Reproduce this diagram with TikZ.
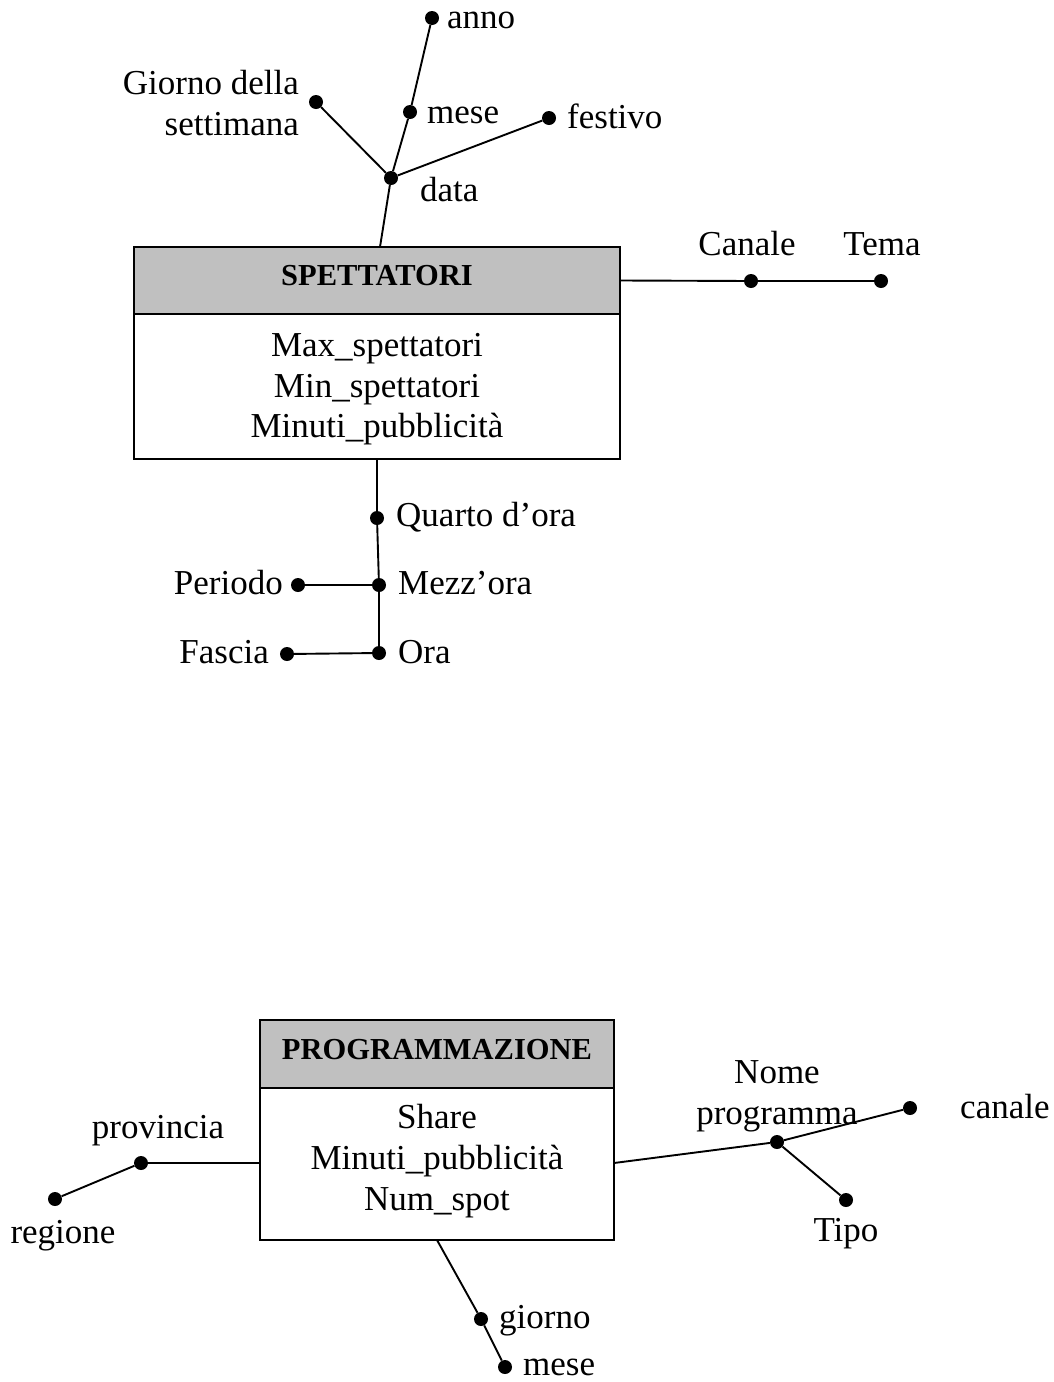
\documentclass[tikz,border=0pt]{standalone}
\usepackage{fontspec}
\setmainfont{Liberation Serif}
\definecolor{hdrgray}{RGB}{192,192,192}
\begin{document}
\begin{tikzpicture}[x=1pt,y=-1pt,
  dot/.style={circle,fill=black,inner sep=0pt,minimum size=14pt},
  lbl/.style={inner sep=0pt,font=\fontsize{35}{41}\selectfont},
  hdrbox/.style={draw=black,line width=2pt,fill=hdrgray,inner sep=0pt},
  bodybox/.style={draw=black,line width=2pt,fill=white,inner sep=0pt},
  hdrtxt/.style={inner sep=0pt,font=\fontsize{30.5}{36}\selectfont\bfseries},
  bodytxt/.style={inner sep=0pt,align=center,font=\fontsize{35}{40.5}\selectfont},
  conn/.style={line width=1.9pt}]
\useasboundingbox (0,0) rectangle (1054,1382);

% ---------- SPETTATORI ----------
\node[hdrbox,minimum width=486pt,minimum height=67pt] (sph) at (377,280.5) {};
\node[bodybox,minimum width=486pt,minimum height=145pt] (spb) at (377,386.5) {};
\node[hdrtxt] (spht) at (377,275.5) {SPETTATORI};
\node[bodytxt] (spbt) at (377,389.5) {Max\_spettatori\\Min\_spettatori\\Minuti\_pubblicità};

\node[dot] (anno) at (432,18) {};
\node[dot] (mese1) at (410,112) {};
\node[dot] (giorno1) at (316,102) {};
\node[dot] (festivo) at (549,118) {};
\node[dot] (data) at (391,178) {};
\coordinate (sptop) at (380,247);

\draw[conn] (anno) -- (mese1) -- (data) -- (sptop);
\draw[conn] (giorno1) -- (data);
\draw[conn] (festivo) -- (data);

\node[lbl,anchor=west] (lanno) at (447,20) {anno};
\node[lbl,anchor=west] (lmese1) at (427,115) {mese};
\node[lbl,anchor=west] (lfestivo) at (567,116) {festivo};
\node[lbl,anchor=west] (ldata) at (420,190) {data};
\node[lbl,anchor=east,align=right] (lgiorno1) at (299,103) {Giorno della\\settimana};

\node[dot] (canale1) at (751,281) {};
\node[dot] (tema) at (881,281) {};
\draw[conn] (sph.east) -- (canale1) -- (tema);
\node[lbl] (lcanale1) at (747,244) {Canale};
\node[lbl] (ltema) at (882,244) {Tema};

\node[dot] (quarto) at (377,518) {};
\node[dot] (mezz) at (379,585) {};
\node[dot] (ora) at (379,653) {};
\node[dot] (periodo) at (298,585) {};
\node[dot] (fascia) at (287,654) {};
\draw[conn] (spb.south) -- (quarto) -- (mezz) -- (ora);
\draw[conn] (periodo) -- (mezz);
\draw[conn] (fascia) -- (ora);
\node[lbl,anchor=west] (lquarto) at (396,517) {Quarto d’ora};
\node[lbl,anchor=west] (lmezz) at (398,583) {Mezz’ora};
\node[lbl,anchor=west] (lora) at (398,652) {Ora};
\node[lbl,anchor=east] (lperiodo) at (283,583) {Periodo};
\node[lbl,anchor=east] (lfascia) at (269,652) {Fascia};

% ---------- PROGRAMMAZIONE ----------
\node[hdrbox,minimum width=354pt,minimum height=68pt] (prh) at (437,1054) {};
\node[bodybox,minimum width=354pt,minimum height=152pt] (prb) at (437,1164) {};
\node[hdrtxt] (prht) at (437,1049.5) {PROGRAMMAZIONE};
\node[bodytxt,font=\fontsize{35}{41}\selectfont] (prbt) at (437,1161.5) {Share\\Minuti\_pubblicità\\Num\_spot};

\coordinate (prleft) at (260,1163);
\coordinate (prright) at (614,1163);
\coordinate (prbottom) at (437,1240);

\node[dot] (provincia) at (141,1163) {};
\node[dot] (regione) at (55,1199) {};
\draw[conn] (prleft) -- (provincia) -- (regione);
\node[lbl] (lprovincia) at (158,1131) {provincia};
\node[lbl] (lregione) at (63,1236) {regione};

\node[dot] (nome) at (777,1142) {};
\node[dot] (canale2) at (910,1108) {};
\node[dot] (tipo) at (846,1200) {};
\draw[conn] (prright) -- (nome) -- (canale2);
\draw[conn] (nome) -- (tipo);
\node[lbl,align=center] (lnome) at (777,1096) {Nome\\programma};
\node[lbl,anchor=west] (lcanale2) at (960,1107) {canale};
\node[lbl] (ltipo) at (846,1234) {Tipo};

\node[dot] (giorno2) at (481,1319) {};
\node[dot] (mese2) at (505,1367) {};
\draw[conn] (prbottom) -- (giorno2) -- (mese2);
\node[lbl,anchor=west] (lgiorno2) at (499,1321) {giorno};
\node[lbl,anchor=west] (lmese2) at (523,1367) {mese};
\end{tikzpicture}
\end{document}
